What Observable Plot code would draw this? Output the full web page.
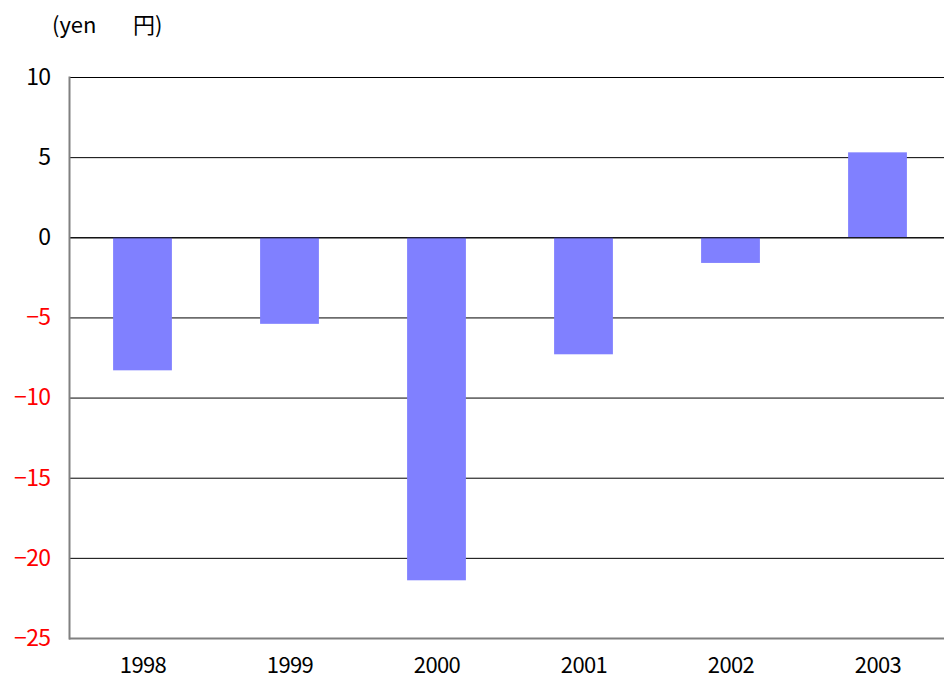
<!DOCTYPE html>
<html>
<head>
<meta charset="utf-8">
<script src="https://cdn.jsdelivr.net/npm/d3@7"></script>
<script src="https://cdn.jsdelivr.net/npm/@observablehq/plot@0.6"></script>
<style>
  body { margin: 0; background: #fff; font-family: "Noto Sans CJK JP", "Noto Sans", sans-serif; }
  #title { height: 50px; position: relative; }
  #title span { position: absolute; top: 8px; font-size: 22px; white-space: pre; color: #000; line-height: 30px; }
  #chart svg text { letter-spacing: -0.6px; }
</style>
</head>
<body>
<div id="title"><span style="left:52px">(yen</span><span style="left:133px">円)</span></div>
<div id="chart"></div>
<script>
const years = ["1998", "1999", "2000", "2001", "2002", "2003"];
const values = [-8.3, -5.4, -21.4, -7.3, -1.6, 5.3];
const yTicks = [10, 5, 0, -5, -10, -15, -20, -25];

const data = years.map((y, i) => ({year: y, value: values[i]}));
const fmt = d => d < 0 ? "\u2212" + Math.abs(d) : String(d);

const chart = Plot.plot({
  width: 944,
  height: 630,
  marginTop: 27,
  marginBottom: 42,
  marginLeft: 69,
  marginRight: 0,
  style: {fontFamily: "'Noto Sans CJK JP', 'Noto Sans', sans-serif", fontSize: "23px", background: "#fff"},
  x: {domain: years, range: [69, 951], round: false, paddingInner: 0.6, paddingOuter: 0.3, label: null},
  y: {domain: [-25, 10], label: null},
  marks: [
    Plot.ruleY(yTicks.filter(d => d !== -25), {stroke: "#000", strokeWidth: 1}),
    Plot.barY(data, {x: "year", y: "value", fill: "#8080ff"}),
    Plot.ruleY([0], {stroke: "#000", strokeWidth: 1}),
    Plot.ruleY([-25], {stroke: "#808080", strokeWidth: 2}),
    Plot.axisY(yTicks.filter(d => d >= 0), {tickSize: 0, tickPadding: 19, tickFormat: fmt, fill: "#000", fontSize: 23, label: null}),
    Plot.axisY(yTicks.filter(d => d < 0), {tickSize: 0, tickPadding: 19, tickFormat: fmt, fill: "#ff0000", fontSize: 23, label: null}),
    Plot.axisX({tickSize: 0, tickPadding: 19, fontSize: 22, fill: "#000", label: null}),
    Plot.frame({anchor: "left", stroke: "#808080", strokeWidth: 2})
  ]
});
document.getElementById("chart").appendChild(chart);
</script>
</body>
</html>
